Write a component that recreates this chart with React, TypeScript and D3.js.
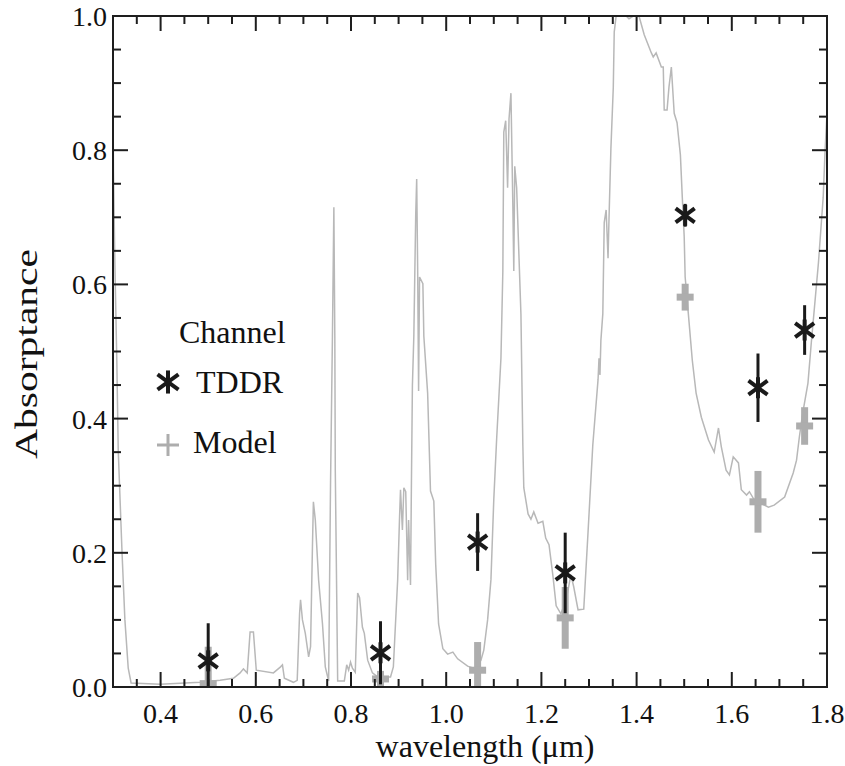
import React from "react";
import * as d3 from "d3";

// Spectrum (grey line)
const wavelength = [
  0.300, 0.301, 0.304, 0.308, 0.311, 0.319, 0.325, 0.332, 0.338, 0.399,
  0.483, 0.525, 0.553, 0.567, 0.574, 0.582, 0.588, 0.595, 0.601, 0.637,
  0.652, 0.656, 0.660, 0.679, 0.687, 0.692, 0.694, 0.698, 0.704, 0.711,
  0.715, 0.719, 0.721, 0.725, 0.732, 0.740, 0.746, 0.753, 0.757, 0.761,
  0.764, 0.766, 0.767, 0.772, 0.786, 0.791, 0.795, 0.799, 0.803, 0.809,
  0.814, 0.818, 0.824, 0.828, 0.835, 0.845, 0.856, 0.883, 0.889, 0.898,
  0.902, 0.904, 0.908, 0.911, 0.915, 0.919, 0.921, 0.925, 0.927, 0.929,
  0.932, 0.936, 0.938, 0.940, 0.942, 0.944, 0.951, 0.953, 0.961, 0.967,
  0.974, 0.978, 0.984, 0.993, 1.003, 1.014, 1.024, 1.045, 1.062, 1.073,
  1.079, 1.087, 1.094, 1.100, 1.106, 1.115, 1.119, 1.121, 1.125, 1.129,
  1.132, 1.136, 1.140, 1.142, 1.144, 1.148, 1.153, 1.157, 1.161, 1.163,
  1.172, 1.178, 1.184, 1.193, 1.203, 1.209, 1.216, 1.224, 1.231, 1.241,
  1.252, 1.262, 1.268, 1.277, 1.289, 1.298, 1.308, 1.319, 1.321, 1.323,
  1.325, 1.329, 1.332, 1.336, 1.340, 1.342, 1.346, 1.351, 1.353, 1.357,
  1.378, 1.384, 1.393, 1.405, 1.416, 1.431, 1.435, 1.441, 1.452, 1.456,
  1.458, 1.464, 1.468, 1.473, 1.479, 1.485, 1.492, 1.496, 1.500, 1.502,
  1.508, 1.517, 1.525, 1.536, 1.551, 1.563, 1.572, 1.578, 1.588, 1.595,
  1.603, 1.614, 1.620, 1.631, 1.637, 1.647, 1.677, 1.689, 1.711, 1.729,
  1.736, 1.742, 1.749, 1.760, 1.767, 1.782, 1.792, 1.796, 1.800,
];
const absorptance = [
  0.880, 0.767, 0.629, 0.487, 0.353, 0.200, 0.100, 0.028, 0.006, 0.004,
  0.007, 0.010, 0.013, 0.021, 0.027, 0.021, 0.082, 0.082, 0.025, 0.021,
  0.030, 0.033, 0.013, 0.007, 0.010, 0.110, 0.130, 0.100, 0.080, 0.045,
  0.060, 0.209, 0.276, 0.249, 0.159, 0.095, 0.030, 0.009, 0.303, 0.523,
  0.715, 0.523, 0.323, 0.009, 0.009, 0.033, 0.025, 0.037, 0.028, 0.022,
  0.140, 0.133, 0.089, 0.080, 0.040, 0.021, 0.015, 0.015, 0.030, 0.159,
  0.253, 0.294, 0.234, 0.297, 0.291, 0.159, 0.249, 0.152, 0.308, 0.449,
  0.523, 0.705, 0.757, 0.627, 0.441, 0.611, 0.601, 0.523, 0.438, 0.292,
  0.277, 0.182, 0.094, 0.057, 0.049, 0.052, 0.042, 0.031, 0.027, 0.040,
  0.055, 0.100, 0.160, 0.280, 0.370, 0.490, 0.620, 0.827, 0.844, 0.744,
  0.847, 0.885, 0.717, 0.620, 0.776, 0.744, 0.639, 0.556, 0.361, 0.297,
  0.258, 0.250, 0.261, 0.244, 0.247, 0.222, 0.212, 0.167, 0.121, 0.109,
  0.130, 0.167, 0.149, 0.115, 0.116, 0.231, 0.361, 0.458, 0.490, 0.465,
  0.517, 0.556, 0.692, 0.711, 0.639, 0.697, 0.802, 0.893, 0.976, 1.000,
  1.000, 0.996, 1.000, 1.000, 0.972, 0.945, 0.939, 0.945, 0.924, 0.924,
  0.860, 0.860, 0.894, 0.924, 0.855, 0.841, 0.793, 0.730, 0.671, 0.611,
  0.562, 0.487, 0.438, 0.402, 0.368, 0.350, 0.386, 0.358, 0.323, 0.316,
  0.343, 0.334, 0.294, 0.286, 0.291, 0.279, 0.268, 0.271, 0.283, 0.319,
  0.338, 0.373, 0.408, 0.453, 0.513, 0.632, 0.730, 0.800, 0.855,
];

// Channel points
const channelWavelength = [0.5, 0.862, 1.066, 1.25, 1.502, 1.655, 1.753];
const tddrValue = [0.039, 0.051, 0.216, 0.170, 0.703, 0.446, 0.532];
const tddrError = [0.056, 0.047, 0.043, 0.060, 0.017, 0.051, 0.037];
const modelValue = [0.005, 0.012, 0.025, 0.103, 0.581, 0.276, 0.389];
const modelError = [0.055, 0.012, 0.042, 0.046, 0.020, 0.046, 0.028];

const xMajorTicks = [0.4, 0.6, 0.8, 1.0, 1.2, 1.4, 1.6, 1.8];
const yMajorTicks = [0.0, 0.2, 0.4, 0.6, 0.8, 1.0];

const W = 845;
const H = 766;
const L = 113, R = 827, T = 16, B = 687;
const FONT = "'Liberation Serif', 'Times New Roman', 'DejaVu Serif', serif";
const AXIS = "#1e1e1e";
const GREY = "#adadad";
const LINEGREY = "#b8b8b8";

function Star({ cx, cy, s = 1 }: { cx: number; cy: number; s?: number }) {
  const dx = 9.5 * s, dy = 7 * s, v = 10.5 * s;
  return (
    <g stroke="#1a1a1a" strokeWidth={4} strokeLinecap="butt">
      <line x1={cx} y1={cy - v} x2={cx} y2={cy + v} />
      <line x1={cx - dx} y1={cy - dy} x2={cx + dx} y2={cy + dy} />
      <line x1={cx - dx} y1={cy + dy} x2={cx + dx} y2={cy - dy} />
    </g>
  );
}

export default function App() {
  const x = d3.scaleLinear().domain([0.3, 1.8]).range([L, R]);
  const y = d3.scaleLinear().domain([0, 1]).range([B, T]);

  const pts: [number, number][] = wavelength.map((w, i) => [w, absorptance[i]]);
  const line = d3
    .line<[number, number]>()
    .x((d) => x(d[0]))
    .y((d) => y(d[1]));

  const xMinor = d3.range(0.3, 1.8001, 0.05).map((v) => +v.toFixed(2));
  const yMinor = d3.range(0, 1.0001, 0.05).map((v) => +v.toFixed(2));
  const isMajorX = (v: number) => xMajorTicks.some((m) => Math.abs(m - v) < 1e-6);
  const isMajorY = (v: number) => yMajorTicks.some((m) => Math.abs(m - v) < 1e-6);

  const textStyle = { fontFamily: FONT };

  return (
    <svg
      width={W}
      height={H}
      viewBox={`0 0 ${W} ${H}`}
      style={{ position: "absolute", left: 0, top: 0, background: "#fff", fontFamily: FONT }}
    >
      <defs>
        <clipPath id="plot">
          <rect x={L} y={T - 1} width={R - L} height={B - T + 1} />
        </clipPath>
      </defs>
      <rect x={0} y={0} width={W} height={H} fill="#fff" />

      <g clipPath="url(#plot)">
        <path d={line(pts) || ""} fill="none" stroke={LINEGREY} strokeWidth={1.5} />

        {/* Model points */}
        {channelWavelength.map((w, i) => (
          <g key={"m" + i} stroke={GREY}>
            <line
              x1={x(w)}
              x2={x(w)}
              y1={y(modelValue[i] + modelError[i])}
              y2={y(modelValue[i] - modelError[i])}
              strokeWidth={7}
            />
            <line
              x1={x(w) - 8.5}
              x2={x(w) + 8.5}
              y1={y(modelValue[i])}
              y2={y(modelValue[i])}
              strokeWidth={7}
            />
          </g>
        ))}

        {/* TDDR points */}
        {channelWavelength.map((w, i) => (
          <g key={"t" + i}>
            <line
              x1={x(w)}
              x2={x(w)}
              y1={y(tddrValue[i] + tddrError[i])}
              y2={y(tddrValue[i] - tddrError[i])}
              stroke="#1a1a1a"
              strokeWidth={3}
            />
            <Star cx={x(w)} cy={y(tddrValue[i])} />
          </g>
        ))}
      </g>

      {/* Axes box */}
      <rect x={L} y={T} width={R - L} height={B - T} fill="none" stroke={AXIS} strokeWidth={2} />

      {/* X ticks (bottom & top) */}
      {xMinor.map((v) => {
        const len = isMajorX(v) ? 15 : 8;
        const px = x(v);
        return (
          <g key={"xt" + v} stroke={AXIS} strokeWidth={2}>
            <line x1={px} x2={px} y1={B} y2={B - len} />
            <line x1={px} x2={px} y1={T} y2={T + len} />
          </g>
        );
      })}
      {/* Y ticks (left & right) */}
      {yMinor.map((v) => {
        const len = isMajorY(v) ? 15 : 8;
        const py = y(v);
        return (
          <g key={"yt" + v} stroke={AXIS} strokeWidth={2}>
            <line x1={L} x2={L + len} y1={py} y2={py} />
            <line x1={R} x2={R - len} y1={py} y2={py} />
          </g>
        );
      })}

      {/* Tick labels */}
      {xMajorTicks.map((v) => (
        <text
          key={"xl" + v}
          x={x(v)}
          y={723}
          textAnchor="middle"
          fontSize={28}
          fill="#111"
          style={textStyle}
        >
          {v.toFixed(1)}
        </text>
      ))}
      {yMajorTicks.map((v) => (
        <text
          key={"yl" + v}
          x={107}
          y={y(v) + 10}
          textAnchor="end"
          fontSize={28}
          fill="#111"
          style={textStyle}
        >
          {v.toFixed(1)}
        </text>
      ))}

      {/* Axis titles */}
      <text x={485} y={757} textAnchor="middle" fontSize={32} fill="#111" style={textStyle}>
        wavelength (μm)
      </text>
      <text
        transform="translate(37,354) rotate(-90)"
        textAnchor="middle"
        fontSize={32}
        fill="#111"
        textLength={210}
        lengthAdjust="spacingAndGlyphs"
        style={textStyle}
      >
        Absorptance
      </text>

      {/* Legend */}
      <text x={179} y={343} fontSize={32} fill="#111" style={textStyle}>
        Channel
      </text>
      <Star cx={168} cy={382} s={1.1} />
      <text x={196} y={393} fontSize={32} fill="#111" style={textStyle}>
        TDDR
      </text>
      <g stroke={GREY} strokeWidth={3}>
        <line x1={157} x2={179} y1={445} y2={445} />
        <line x1={168} x2={168} y1={434} y2={456} />
      </g>
      <text x={193} y={453} fontSize={32} fill="#111" style={textStyle}>
        Model
      </text>
    </svg>
  );
}
